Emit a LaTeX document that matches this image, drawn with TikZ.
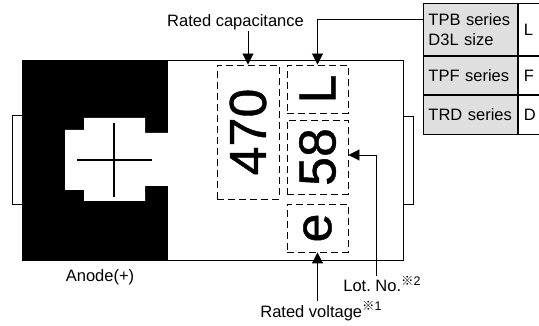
\documentclass[tikz,border=0pt]{standalone}
\usepackage{fontspec}
\setmainfont{Liberation Sans}
\newfontfamily\cjkfont{Noto Sans CJK JP}
\newfontfamily\markfont{Liberation Sans}[FakeBold=0.8]
\usetikzlibrary{arrows.meta}

\newcommand{\notemark}[1]{\raisebox{0.42em}{\fontsize{12.5}{12}\selectfont{\cjkfont ※}#1}}

\tikzset{
  labeltext/.style={font=\fontsize{16.5}{20}\selectfont, inner sep=0pt},
  markbox/.style={draw, dash pattern=on 7pt off 4pt, line width=0.9pt, inner sep=0pt},
  marktext/.style={rotate=90, inner sep=0pt, font=\markfont\fontsize{52}{60}\selectfont},
  pointer/.style={line width=0.9pt, -{Triangle[width=11pt,length=11pt]}},
  cell/.style={draw, line width=0.9pt, inner xsep=5.5pt, inner ysep=0pt, align=left,
    font=\fontsize{16.5}{20}\selectfont},
}

\begin{document}
\begin{tikzpicture}[x=1pt, y=-1pt]
\useasboundingbox (0,0) rectangle (539,326);

% Terminal tabs
\draw[line width=0.9pt] (12,115) rectangle (22,204);
\draw[line width=0.9pt] (403,116) rectangle (413,204);

% Body with anode band
\fill[white] (22,60) rectangle (403,260);
\fill (22,60) rectangle (168,260);
\fill[white] (65,130) -- (84,130) -- (84,118) -- (145,118) -- (145,133) -- (168,133)
  -- (168,186) -- (145,186) -- (145,201) -- (84,201) -- (84,190) -- (65,190) -- cycle;
\draw[line width=0.9pt] (22,60) rectangle (403,260);
\draw[line width=2.4pt] (77,160) -- (152,160);
\draw[line width=2.4pt] (114,123) -- (114,197);

% Marking fields
\node[markbox, minimum width=62pt, minimum height=134pt] (capbox) at (248,132) {};
\node[markbox, minimum width=61pt, minimum height=48pt] (sizebox) at (317.5,89) {};
\node[markbox, minimum width=61pt, minimum height=74pt] (lotbox) at (317.5,157) {};
\node[markbox, minimum width=61pt, minimum height=48pt] (voltbox) at (317.5,228) {};
\node[marktext] at (capbox) {470};
\node[marktext] at (sizebox) {L};
\node[marktext] at (lotbox) {58};
\node[marktext] at (voltbox) {e};

% Size code table
\node[cell, fill=gray!25, text width=83.5pt, minimum height=52pt, anchor=north west] (tpb) at (422.5,3) {TPB series\\D3L size};
\node[cell, fill=gray!25, text width=83.5pt, minimum height=38pt, anchor=north west] (tpf) at (tpb.south west) {TPF series};
\node[cell, fill=gray!25, text width=83.5pt, minimum height=39pt, anchor=north west] (trd) at (tpf.south west) {TRD series};
\node[cell, text width=40pt, minimum height=52pt, anchor=north west] (codel) at (tpb.north east) {L};
\node[cell, text width=40pt, minimum height=38pt, anchor=north west] (codef) at (tpf.north east) {F};
\node[cell, text width=40pt, minimum height=39pt, anchor=north west] (coded) at (trd.north east) {D};

% Labels
\node[labeltext, anchor=base] (capt) at (235.5,27) {Rated capacitance};
\node[labeltext, anchor=base] (anode) at (100,282) {Anode(+)};
\node[labeltext, anchor=base] (lot) at (382,292) {Lot.\ No.\notemark{2}};
\node[labeltext, anchor=base] (volt) at (321,317) {Rated voltage\notemark{1}};
\coordinate (lotturn) at (376,155);

% Leaders
\draw[pointer] (capbox.north |- capt.south) -- (capbox.north);
\draw[pointer] ([yshift=10pt]tpb.west) -| (sizebox.north);
\draw[pointer] (lot.north -| lotturn) |- (lotbox.east |- lotturn);
\draw[pointer] (volt.north -| voltbox.south) -- (voltbox.south);

\end{tikzpicture}
\end{document}
